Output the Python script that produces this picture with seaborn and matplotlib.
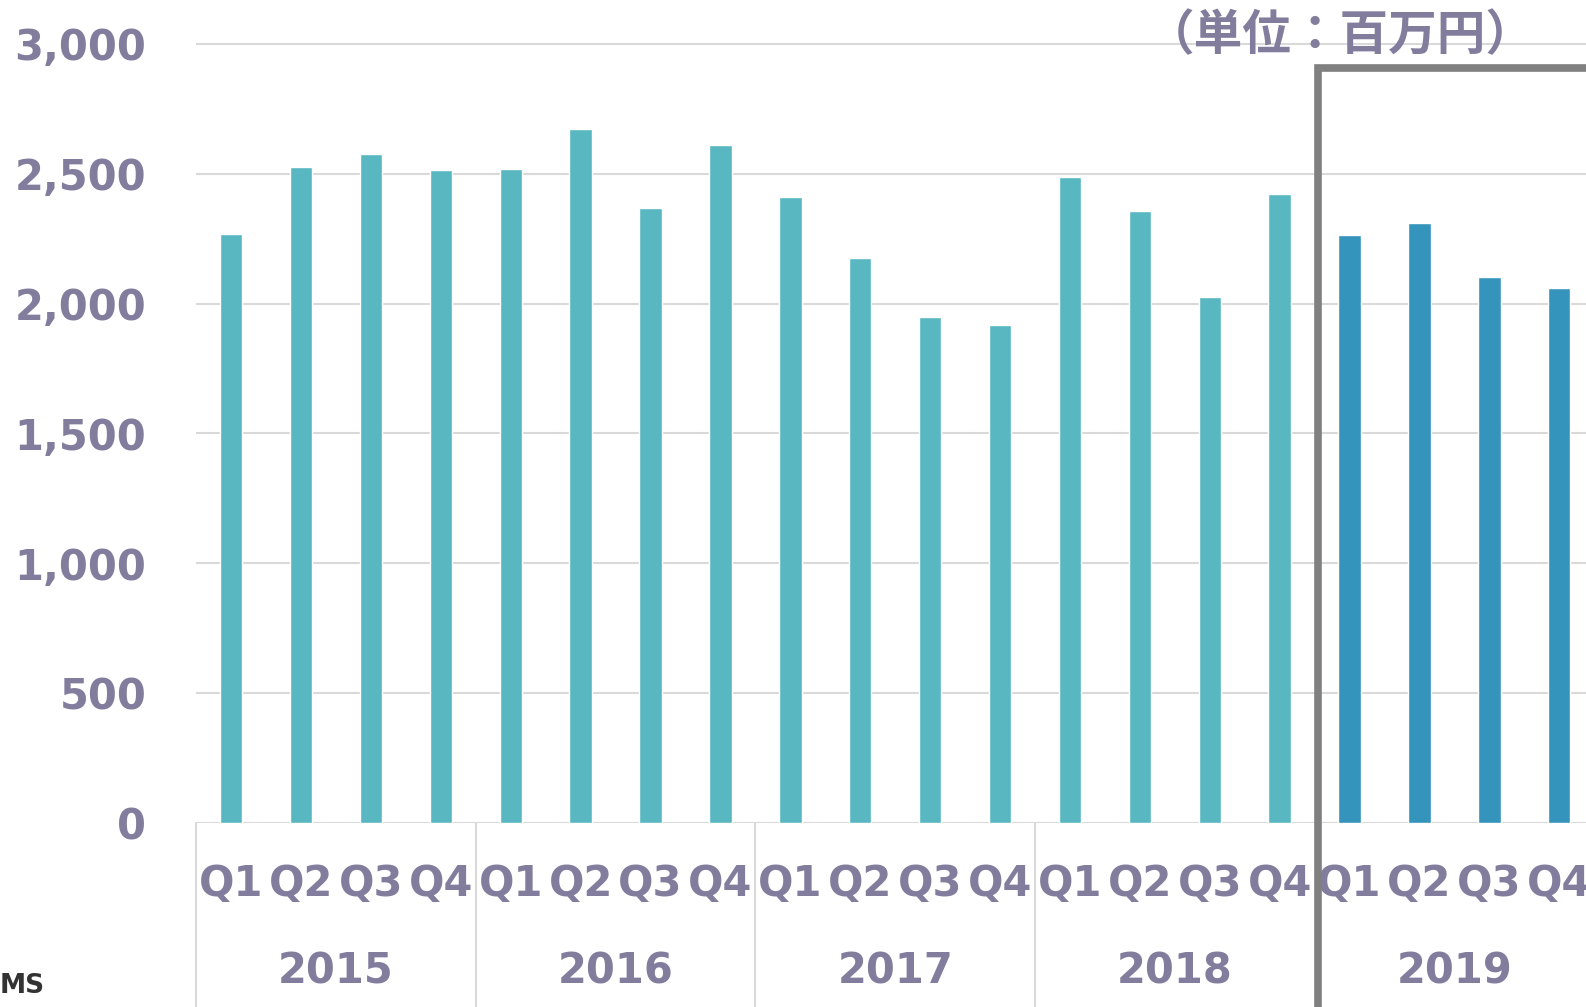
import matplotlib
matplotlib.use("Agg")
import matplotlib.pyplot as plt
import seaborn as sns
import pandas as pd

years = ["2015", "2016", "2017", "2018", "2019"]
quarters = ["Q1", "Q2", "Q3", "Q4"]
values = [2267, 2528, 2575, 2513,
          2517, 2672, 2369, 2610,
          2411, 2174, 1948, 1917,
          2489, 2357, 2026, 2423,
          2263, 2310, 2104, 2061]
y_ticks = [0, 500, 1000, 1500, 2000, 2500, 3000]
unit_label = "（単位：百万円）"

teal = "#59b7c1"
dark = "#3494bc"
txt = "#837d9d"
grid = "#d9d9d9"

df = pd.DataFrame({
    "key": [f"{y} {q}" for y in years for q in quarters],
    "value": values,
    "period": ["current" if y == "2019" else "past" for y in years for q in quarters],
})

sns.set_theme(style="white")
plt.rcParams["font.family"] = ["DejaVu Sans", "Noto Sans CJK JP"]

fig = plt.figure(figsize=(15.86, 10.07), dpi=100)
ax = fig.add_axes([196.2 / 1586, 1 - 823 / 1007, 1398 / 1586, (823 - 31) / 1007])

sns.barplot(data=df, x="key", y="value", hue="period",
            palette={"past": teal, "current": dark}, dodge=False,
            width=0.32, legend=False, ax=ax, saturation=1)

ax.set_xlim(-0.5, 19.5)
ax.set_ylim(0, 3050)
ax.set_yticks(y_ticks)
ax.set_yticklabels([f"{v:,}" for v in y_ticks])
ax.set_xticks(range(len(values)))
ax.set_xticklabels([q for y in years for q in quarters])
ax.set_xlabel("")
ax.set_ylabel("")
for s in ax.spines.values():
    s.set_visible(False)
ax.grid(axis="y", color=grid, lw=1.5)
ax.set_axisbelow(True)
ax.tick_params(axis="y", length=0, pad=36, labelsize=30, labelcolor=txt)
ax.tick_params(axis="x", length=0, pad=29, labelsize=30, labelcolor=txt)
for lab in ax.get_yticklabels() + ax.get_xticklabels():
    lab.set_fontweight("bold")

# year separators
ymin_fig = -720
for b in [-0.5, 3.5, 7.5, 11.5]:
    ax.plot([b, b], [0, ymin_fig], color=grid, lw=1.5, clip_on=False)

# year labels
for i, y in enumerate(years):
    ax.text(i * 4 + 1.5, -570, y, ha="center", va="center",
            fontsize=30, fontweight="bold", color=txt)

# highlight box around 2019
ax.plot([15.55, 15.55, 20.5], [ymin_fig, 2907, 2907], color="#808080",
        lw=5.5, clip_on=False, solid_joinstyle="miter")

fig.text(1340 / 1586, 1 - 36 / 1007, unit_label, ha="center", va="center",
         fontsize=35, fontweight="bold", color=txt,
         family=["Noto Sans CJK JP", "DejaVu Sans"])

fig.text(0.0, 1 - 986 / 1007, "MS", ha="left", va="center",
         fontsize=19, fontweight="bold", color="#333333")

fig.savefig("out.png", dpi=100)
